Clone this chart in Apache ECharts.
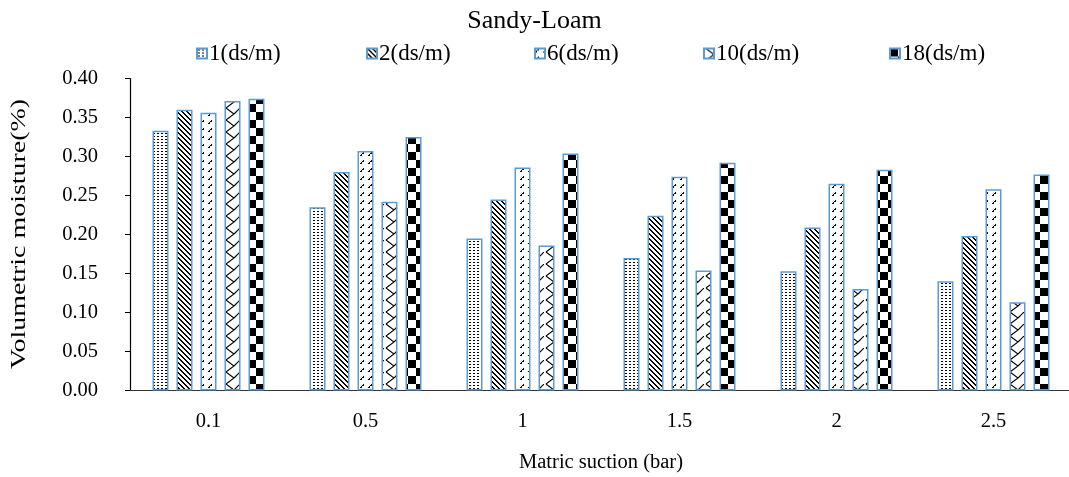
<!DOCTYPE html>
<html>
<head>
<meta charset="utf-8">
<script src="https://cdn.jsdelivr.net/npm/echarts@6/dist/echarts.min.js"></script>
<style>
  html, body { margin: 0; padding: 0; background: #fff; }
  #chart { width: 1069px; height: 477px; }
</style>
</head>
<body>
<div id="chart"></div>
<script>
// Matric suction levels (bar)
const suction = ['0.1', '0.5', '1', '1.5', '2', '2.5'];
// Salinity levels
const salinity = ['1(ds/m)', '2(ds/m)', '6(ds/m)', '10(ds/m)', '18(ds/m)'];
// Volumetric moisture per salinity level
const ec1  = [0.333, 0.235, 0.195, 0.170, 0.153, 0.140];
const ec2  = [0.360, 0.280, 0.245, 0.224, 0.209, 0.198];
const ec6  = [0.356, 0.307, 0.286, 0.274, 0.265, 0.258];
const ec10 = [0.371, 0.242, 0.186, 0.154, 0.130, 0.113];
const ec18 = [0.374, 0.325, 0.304, 0.292, 0.283, 0.277];
const yTicks = ['0.00', '0.05', '0.10', '0.15', '0.20', '0.25', '0.30', '0.35', '0.40'];
const yTitle = 'Volumetric moisture(%)';

const FONT = '"Liberation Serif", "Times New Roman", serif';
const EDGE = '#5B9BD5';

// Build a repeating black-on-white fill tile
function tile(w, h, draw) {
  const c = document.createElement('canvas');
  c.width = w; c.height = h;
  const g = c.getContext('2d');
  g.fillStyle = '#fff';
  g.fillRect(0, 0, w, h);
  g.fillStyle = '#000';
  g.strokeStyle = '#000';
  draw(g, w, h);
  return { image: c, repeat: 'repeat' };
}

const fills = [
  // dotted
  tile(4, 3, g => { g.fillRect(1, 1, 2, 1); }),
  // downward diagonal
  tile(5, 5, g => { for (let i = 0; i < 5; i++) { g.fillRect(i, i, 1, 1); g.fillRect((i + 1) % 5, i, 1, 1); } }),
  // dashed upward diagonal
  tile(8, 8, g => {
    for (let i = 0; i < 4; i++) { g.fillRect(i, 3 - i, 1, 1); }
    g.fillRect(1, 3, 1, 1);
    g.fillRect(3, 1, 1, 1);
  }),
  // zig-zag
  tile(16, 12, g => {
    g.lineWidth = 1.1;
    g.beginPath();
    g.moveTo(2, 0); g.lineTo(10, 6); g.lineTo(2, 12);
    g.moveTo(16, 0); g.lineTo(10, 6);
    g.stroke();
  }),
  // checkerboard
  tile(16, 16, g => { g.fillRect(0, 0, 8, 8); g.fillRect(8, 8, 8, 8); })
];

const values = [ec1, ec2, ec6, ec10, ec18];
const series = salinity.map((name, i) => ({
  name: name,
  type: 'bar',
  data: values[i],
  barWidth: 16,
  barGap: '50%',
  itemStyle: { color: fills[i], borderColor: EDGE, borderWidth: 1.5 },
  emphasis: { disabled: true },
  animation: false
}));

const legendLeft = [191, 361, 529, 698, 884];
const legends = salinity.map((name, i) => ({
  data: [name],
  left: legendLeft[i],
  top: 37,
  itemWidth: 10,
  itemHeight: 10,
  itemGap: 0,
  icon: 'rect',
  textStyle: { fontFamily: FONT, fontSize: 23, color: '#000', padding: [0, 0, 0, -3] },
  selectedMode: false
}));

const chart = echarts.init(document.getElementById('chart'), null, { renderer: 'canvas' });
chart.setOption({
  backgroundColor: '#fff',
  animation: false,
  title: {
    text: 'Sandy-Loam',
    left: 'center',
    top: 3,
    textStyle: { fontFamily: FONT, fontSize: 26, fontWeight: 'normal', color: '#000' }
  },
  legend: legends,
  grid: { left: 130, right: -3, top: 78.5, bottom: 86.5, containLabel: false, outerBoundsMode: 'none' },
  // y-axis title, drawn long and narrow along the axis
  graphic: [{
    type: 'text',
    x: 19,
    y: 234,
    rotation: Math.PI / 2,
    scaleX: 1.33,
    silent: true,
    style: {
      text: yTitle,
      font: '21px ' + FONT,
      fill: '#000',
      textAlign: 'center',
      textVerticalAlign: 'middle'
    }
  }],
  xAxis: {
    type: 'category',
    data: suction,
    name: 'Matric suction (bar)',
    nameLocation: 'middle',
    nameGap: 62,
    nameTextStyle: { fontFamily: FONT, fontSize: 20.5, color: '#000' },
    axisLine: { lineStyle: { color: '#333', width: 1.2 } },
    axisTick: { show: false },
    axisLabel: { fontFamily: FONT, fontSize: 20.5, color: '#000', margin: 21 }
  },
  yAxis: {
    type: 'value',
    min: 0,
    max: 0.4,
    interval: 0.05,
    axisLine: { show: true, lineStyle: { color: '#000', width: 1.2 } },
    axisTick: { show: true, inside: false, length: 5, lineStyle: { color: '#000' } },
    splitLine: { show: false },
    axisLabel: {
      fontFamily: FONT, fontSize: 20.5, color: '#000', margin: 32,
      formatter: (v) => yTicks[Math.round(v / 0.05)]
    }
  },
  series: series
});
</script>
</body>
</html>
